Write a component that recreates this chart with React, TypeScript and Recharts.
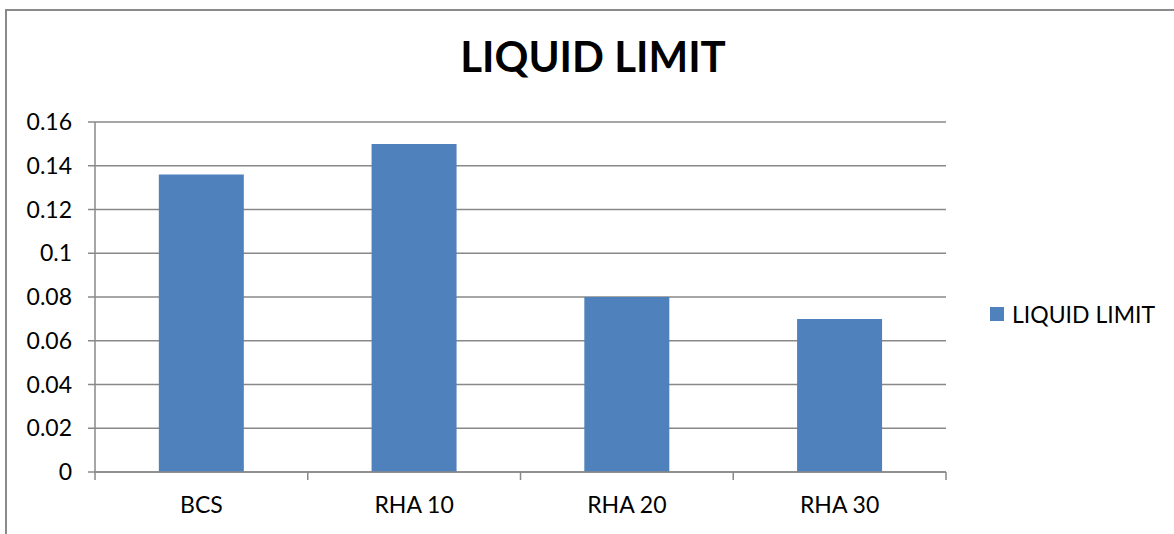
import React from 'react';
import { BarChart, Bar, XAxis, YAxis, CartesianGrid, Legend } from 'recharts';

const categories = ['BCS', 'RHA 10', 'RHA 20', 'RHA 30'];
const liquidLimit = [0.136, 0.15, 0.08, 0.07];
const yTicks = [0, 0.02, 0.04, 0.06, 0.08, 0.1, 0.12, 0.14, 0.16];

const BLUE = '#4F81BD';
const GRID = '#888888';
const FONT = 'Lato, "Open Sans", sans-serif';

const data = categories.map((name, i) => ({ name, value: liquidLimit[i] }));

// Excel puts the x tick marks between categories, not under them.
// payload.offset is half the band width from the axis scale.
function CategoryTick(props: any) {
  const { x, y, payload, index } = props;
  const off = payload?.offset ?? 0;
  const last = index === categories.length - 1;
  return (
    <g>
      <line x1={x - off} x2={x - off} y1={y} y2={y + 8} stroke={GRID} strokeWidth={1.5} />
      {last && <line x1={x + off} x2={x + off} y1={y} y2={y + 8} stroke={GRID} strokeWidth={1.5} />}
      <text x={x} y={y + 41} textAnchor="middle" fill="#000" fontSize={23} fontFamily={FONT}>
        {payload.value}
      </text>
    </g>
  );
}

function LegendBox() {
  return (
    <div style={{ display: 'flex', alignItems: 'center', fontFamily: FONT, fontSize: 23, color: '#000' }}>
      <span style={{ display: 'inline-block', width: 14, height: 14, background: BLUE, marginRight: 8 }} />
      LIQUID LIMIT
    </div>
  );
}

export default function App() {
  return (
    <div style={{ position: 'fixed', left: 0, top: 0, width: 1174, height: 534, background: '#fff', overflow: 'hidden' }}>
      {/* outer chart frame, runs off the right and bottom edge like the source */}
      <div style={{ position: 'absolute', left: 5, top: 9, width: 1200, height: 560, border: '2px solid #8a8a8a', boxSizing: 'border-box' }} />
      <span style={{ position: 'absolute', left: 593, top: 31, transform: 'translateX(-50%)', fontFamily: FONT, fontWeight: 700, fontSize: 42, color: '#000', whiteSpace: 'nowrap' }}>
        LIQUID LIMIT
      </span>
      <div style={{ position: 'absolute', left: 0, top: 0 }}>
        <BarChart
          width={1174}
          height={534}
          data={data}
          margin={{ top: 122, right: 44, bottom: 0, left: 0 }}
          barCategoryGap="30%"
        >
          <CartesianGrid vertical={false} stroke={GRID} strokeWidth={1.5} />
          <XAxis
            dataKey="name"
            interval={0}
            axisLine={{ stroke: GRID, strokeWidth: 1.5 }}
            tickLine={false}
            tickSize={0}
            tickMargin={0}
            height={62}
            tick={<CategoryTick />}
          />
          <YAxis
            width={95}
            domain={[0, 0.16]}
            ticks={yTicks}
            interval={0}
            tickSize={7}
            tickMargin={16}
            axisLine={{ stroke: GRID, strokeWidth: 1.5 }}
            tickLine={{ stroke: GRID, strokeWidth: 1.5 }}
            tick={{ fill: '#000', fontSize: 23, fontFamily: FONT }}
          />
          <Legend
            layout="vertical"
            align="right"
            verticalAlign="middle"
            content={() => <LegendBox />}
            wrapperStyle={{ left: 990, top: 300, width: 184 }}
          />
          <Bar dataKey="value" name="LIQUID LIMIT" fill={BLUE} isAnimationActive={false} />
        </BarChart>
      </div>
    </div>
  );
}
